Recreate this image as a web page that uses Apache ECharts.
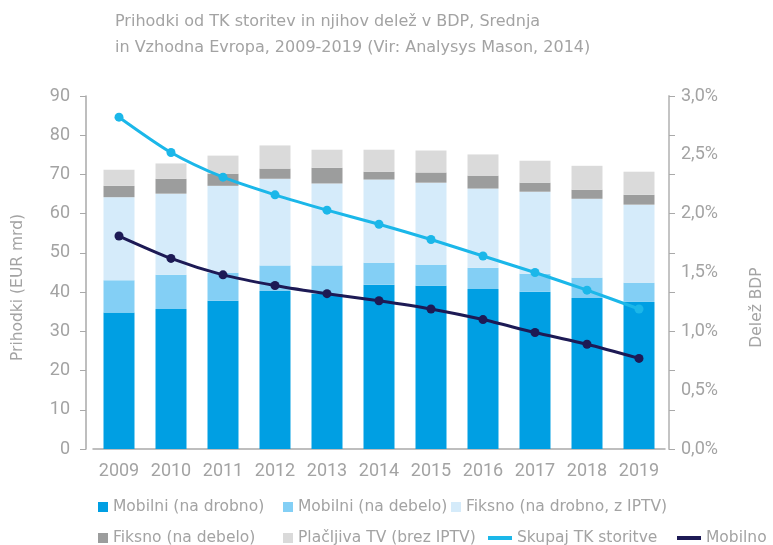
<!DOCTYPE html>
<html>
<head>
    <meta charset="utf-8">
    <title>Prihodki od TK storitev</title>
    <script src="https://cdn.jsdelivr.net/npm/echarts@6/dist/echarts.min.js"></script>
    <style>
        html, body {margin: 0; padding: 0; background: #fff;}
        #main {width: 773px; height: 545px;}
    </style>
</head>
<body>
<div id="main"></div>
<script type="text/javascript">
    var years = ['2009', '2010', '2011', '2012', '2013', '2014', '2015', '2016', '2017', '2018', '2019'];
    // prihodki, EUR mrd
    var mobilniDrobno = [34.8, 35.7, 37.8, 40.3, 39.6, 41.9, 41.6, 40.8, 40.1, 38.5, 37.5];
    var mobilniDebelo = [8.2, 8.7, 7.1, 6.5, 7.2, 5.6, 5.4, 5.4, 4.6, 5.2, 4.9];
    var fiksnoDrobno = [21.2, 20.7, 22.2, 22.1, 20.9, 21.2, 20.9, 20.2, 20.9, 20.1, 19.9];
    var fiksnoDebelo = [2.9, 3.8, 3.1, 2.6, 4.0, 2.0, 2.6, 3.3, 2.3, 2.3, 2.5];
    var placljivaTV = [4.1, 3.9, 4.6, 5.9, 4.6, 5.6, 5.6, 5.4, 5.6, 6.1, 5.9];
    // delez BDP, %
    var skupajTK = [2.82, 2.52, 2.31, 2.16, 2.03, 1.91, 1.78, 1.64, 1.50, 1.35, 1.19];
    var mobilno = [1.81, 1.62, 1.48, 1.39, 1.32, 1.26, 1.19, 1.10, 0.99, 0.89, 0.77];

    var gray = '#a3a3a3';
    var font = 'Roboto';
    var textFont = 'DejaVu Sans';

    var chart = echarts.init(document.getElementById('main'));

    function legendItem(name, left, top, line) {
        return {
            data: [name],
            left: left,
            top: top,
            icon: 'rect',
            itemWidth: line ? 24 : 10,
            itemHeight: line ? 4 : 10,
            textStyle: {color: gray, fontSize: 15.5, fontFamily: textFont},
            selectedMode: false
        };
    }

    function bar(name, data, color) {
        return {
            name: name,
            type: 'bar',
            stack: 'prihodki',
            barWidth: 31,
            itemStyle: {color: color},
            data: data
        };
    }

    function line(name, data, color) {
        return {
            name: name,
            type: 'line',
            yAxisIndex: 1,
            smooth: 0.25,
            symbol: 'circle',
            symbolSize: 9,
            lineStyle: {width: 3, color: color},
            itemStyle: {color: color},
            data: data
        };
    }

    var option = {
        animation: false,
        title: {
            text: 'Prihodki od TK storitev in njihov delež v BDP, Srednja\nin Vzhodna Evropa, 2009-2019 (Vir: Analysys Mason, 2014)',
            left: 110,
            top: 4,
            textStyle: {color: gray, fontSize: 16, fontWeight: 'normal', fontFamily: textFont, lineHeight: 26}
        },
        legend: [
            legendItem('Mobilni (na drobno)', 93, 494),
            legendItem('Mobilni (na debelo)', 278, 494),
            legendItem('Fiksno (na drobno, z IPTV)', 446, 494),
            legendItem('Fiksno (na debelo)', 93, 525),
            legendItem('Plačljiva TV (brez IPTV)', 278, 525),
            legendItem('Skupaj TK storitve', 483, 525, true),
            legendItem('Mobilno', 672, 525, true)
        ],
        grid: {left: 93, right: 94, top: 96, bottom: 96},
        xAxis: {
            type: 'category',
            data: years,
            axisLine: {lineStyle: {color: '#a9a9a9', width: 1.5}},
            axisTick: {show: false},
            axisLabel: {color: gray, fontSize: 18, fontFamily: font, margin: 13, interval: 0}
        },
        yAxis: [{
            type: 'value',
            min: 0,
            max: 90,
            interval: 10,
            offset: 7,
            name: 'Prihodki (EUR mrd)',
            nameLocation: 'middle',
            nameRotate: 90,
            nameGap: 60,
            nameTextStyle: {color: gray, fontSize: 15.5, fontFamily: textFont, padding: [0, 30, 0, 0]},
            axisLine: {show: true, lineStyle: {color: '#a9a9a9', width: 1.5}},
            axisTick: {show: true, length: 6, lineStyle: {color: '#a9a9a9'}},
            axisLabel: {color: gray, fontSize: 18, fontFamily: font, margin: 16},
            splitLine: {show: false}
        }, {
            type: 'value',
            position: 'right',
            min: 0,
            max: 3,
            interval: 0.5,
            offset: 4,
            name: 'Delež BDP',
            nameLocation: 'middle',
            nameRotate: 90,
            nameGap: 80,
            nameTextStyle: {color: gray, fontSize: 15.5, fontFamily: textFont, padding: [0, 70, 0, 0]},
            axisLine: {show: false},
            axisTick: {show: false},
            axisLabel: {
                color: gray, fontSize: 18, fontFamily: font, margin: 12,
                formatter: function (v) {
                    return v.toFixed(1).replace('.', ',') + '%';
                }
            },
            splitLine: {show: false}
        }, {
            type: 'value',
            position: 'right',
            min: 0,
            max: 90,
            interval: 10,
            offset: 4,
            axisLine: {show: true, lineStyle: {color: '#c4c4c4', width: 2}},
            axisTick: {show: true, length: 6, lineStyle: {color: '#a9a9a9'}},
            axisLabel: {show: false},
            splitLine: {show: false}
        }],
        series: [
            bar('Mobilni (na drobno)', mobilniDrobno, '#009fe3'),
            bar('Mobilni (na debelo)', mobilniDebelo, '#83cff5'),
            bar('Fiksno (na drobno, z IPTV)', fiksnoDrobno, '#d5ebfa'),
            bar('Fiksno (na debelo)', fiksnoDebelo, '#9c9d9d'),
            bar('Plačljiva TV (brez IPTV)', placljivaTV, '#dadada'),
            line('Skupaj TK storitve', skupajTK, '#1bb7e9'),
            line('Mobilno', mobilno, '#1d1a55')
        ]
    };

    chart.setOption(option);
</script>
</body>
</html>
